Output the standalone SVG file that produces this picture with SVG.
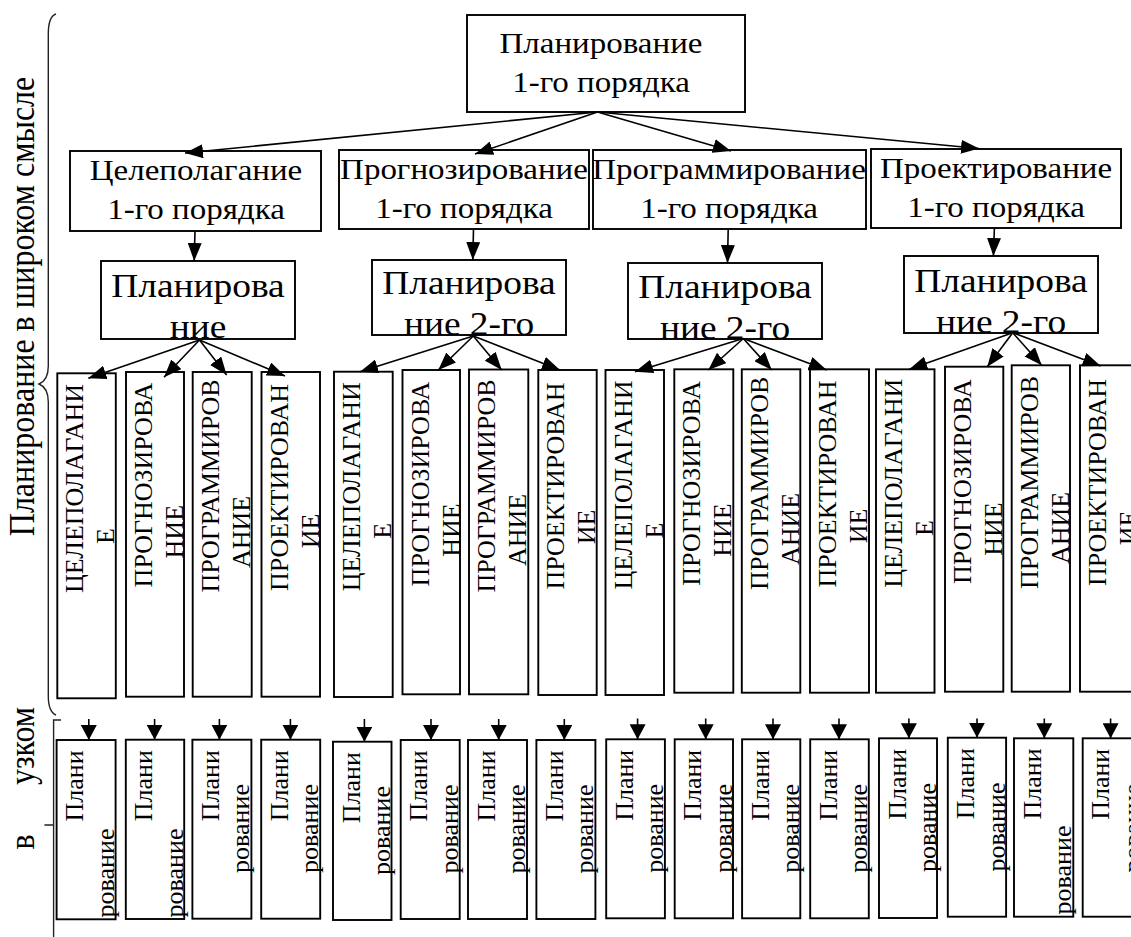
<svg xmlns="http://www.w3.org/2000/svg" width="1131" height="937" viewBox="0 0 1131 937" font-family="'Liberation Serif', 'DejaVu Serif', serif">
<defs>
<marker id="ah" markerWidth="18" markerHeight="14" refX="18" refY="7" orient="auto" markerUnits="userSpaceOnUse"><path d="M0,0 L18,7 L0,14 z" fill="#000"/></marker>
<marker id="ahs" markerWidth="15" markerHeight="16" refX="15" refY="8" orient="auto" markerUnits="userSpaceOnUse"><path d="M0,0 L15,8 L0,16 z" fill="#000"/></marker>
</defs>
<style>
.box{fill:#fff;stroke:#000;stroke-width:1.9}
.tx text{font-family:'Liberation Serif','DejaVu Serif',serif;fill:#000;text-anchor:middle}
.f1{font-size:30px}
.f2{font-size:34px}
.f3{font-size:26px}
.side{font-size:32px}
#connectors line{stroke:#000;stroke-width:1.6;marker-end:url(#ah)}
#connectors line.s{marker-end:url(#ahs)}
.br{fill:none;stroke:#222;stroke-width:1.4}
</style>
<rect width="1131" height="937" fill="#fff"/>
<g class="tx">
<g id="labels">
<path class="br" d="M56,14 C50,16 48.3,24 48.3,34 L48.3,366 C48.3,376 44,382 39,384 C44,386 48.3,392 48.3,402 L48.3,696 C48.3,706 51,713 56,715"/>
<path class="br" d="M61,720 L53.6,720 L53.6,937 M44.4,825 L53.6,825"/>
<text class="side" transform="translate(34,306.5) scale(1.1,1) rotate(-90)">Планирование в широком смысле</text>
<text class="side" transform="translate(34,746) scale(1.1,1) rotate(-90)">узком</text>
<text class="side" transform="translate(34,842) scale(1.1,1) rotate(-90)">в</text>
</g>

<g id="top">
<rect class="box" x="467" y="15" width="278" height="97"/>
<text class="f1" transform="translate(601,53) scale(1.1,1)">Планирование</text>
<text class="f1" transform="translate(601,92) scale(1.1,1)">1-го порядка</text>
</g>

<g id="l1a"><rect class="box" x="70" y="151" width="251" height="80"/>
<text class="f1" transform="translate(196,180) scale(1.1,1)">Целеполагание</text>
<text class="f1" transform="translate(196,219) scale(1.1,1)">1-го порядка</text></g>
<g id="l1b"><rect class="box" x="339" y="150" width="250" height="79"/>
<text class="f1" transform="translate(464,179) scale(1.1,1)">Прогнозирование</text>
<text class="f1" transform="translate(464,218) scale(1.1,1)">1-го порядка</text></g>
<g id="l1c"><rect class="box" x="593" y="150" width="273" height="79"/>
<text class="f1" transform="translate(729,179) scale(1.1,1)">Программирование</text>
<text class="f1" transform="translate(729,218) scale(1.1,1)">1-го порядка</text></g>
<g id="l1d"><rect class="box" x="871" y="149" width="250" height="79"/>
<text class="f1" transform="translate(996,178) scale(1.1,1)">Проектирование</text>
<text class="f1" transform="translate(996,217) scale(1.1,1)">1-го порядка</text></g>

<g id="l2a"><rect class="box" x="101" y="261" width="194" height="78"/>
<text class="f2" transform="translate(198,297) scale(1.1,1)">Планирова</text>
<text class="f2" transform="translate(198,338) scale(1.1,1)">ние</text></g>
<g id="l2b"><rect class="box" x="372" y="260" width="194" height="75"/>
<text class="f2" transform="translate(469,294) scale(1.1,1)">Планирова</text>
<text class="f2" transform="translate(469,335) scale(1.1,1)">ние 2-го</text></g>
<g id="l2c"><rect class="box" x="628" y="263" width="194" height="76"/>
<text class="f2" transform="translate(725,297.5) scale(1.1,1)">Планирова</text>
<text class="f2" transform="translate(725,338.5) scale(1.1,1)">ние 2-го</text></g>
<g id="l2d"><rect class="box" x="904" y="256" width="194" height="77"/>
<text class="f2" transform="translate(1001,291.5) scale(1.1,1)">Планирова</text>
<text class="f2" transform="translate(1001,332.5) scale(1.1,1)">ние 2-го</text></g>

<g id="v1"><rect class="box" x="57.3" y="373.3" width="58.5" height="325"/>
<text class="f3" transform="translate(83.3,488.5) rotate(-90)">ЦЕЛЕПОЛАГАНИ</text>
<text class="f3" transform="translate(114.3,536) rotate(-90)">Е</text></g>
<g id="v2"><rect class="box" x="126" y="372" width="58" height="324.7"/>
<text class="f3" transform="translate(152,485) rotate(-90)">ПРОГНОЗИРОВА</text>
<text class="f3" transform="translate(183,531.7) rotate(-90)">НИЕ</text></g>
<g id="v3"><rect class="box" x="192.7" y="372" width="59" height="324.7"/>
<text class="f3" transform="translate(218.7,486) rotate(-90)">ПРОГРАММИРОВ</text>
<text class="f3" transform="translate(249.7,532) rotate(-90)">АНИЕ</text></g>
<g id="v4"><rect class="box" x="261.5" y="372" width="58.5" height="324.7"/>
<text class="f3" transform="translate(287.5,487.5) rotate(-90)">ПРОЕКТИРОВАН</text>
<text class="f3" transform="translate(318.5,531) rotate(-90)">ИЕ</text></g>
<g id="v5"><rect class="box" x="334" y="371.7" width="58.7" height="325.3"/>
<text class="f3" transform="translate(360,486.7) rotate(-90)">ЦЕЛЕПОЛАГАНИ</text>
<text class="f3" transform="translate(391,530.7) rotate(-90)">Е</text></g>
<g id="v6"><rect class="box" x="402.5" y="370" width="57.5" height="324.3"/>
<text class="f3" transform="translate(428.5,484) rotate(-90)">ПРОГНОЗИРОВА</text>
<text class="f3" transform="translate(459.5,530) rotate(-90)">НИЕ</text></g>
<g id="v7"><rect class="box" x="469" y="369.5" width="59.3" height="324.8"/>
<text class="f3" transform="translate(495,486) rotate(-90)">ПРОГРАММИРОВ</text>
<text class="f3" transform="translate(526,530) rotate(-90)">АНИЕ</text></g>
<g id="v8"><rect class="box" x="538.3" y="370" width="58.4" height="325"/>
<text class="f3" transform="translate(564.3,486) rotate(-90)">ПРОЕКТИРОВАН</text>
<text class="f3" transform="translate(595.3,527) rotate(-90)">ИЕ</text></g>
<g id="v9"><rect class="box" x="605.5" y="370" width="58.5" height="325"/>
<text class="f3" transform="translate(631.5,485) rotate(-90)">ЦЕЛЕПОЛАГАНИ</text>
<text class="f3" transform="translate(662.5,530.5) rotate(-90)">Е</text></g>
<g id="v10"><rect class="box" x="674.3" y="369.3" width="59" height="323.4"/>
<text class="f3" transform="translate(700.3,483.3) rotate(-90)">ПРОГНОЗИРОВА</text>
<text class="f3" transform="translate(731.3,530) rotate(-90)">НИЕ</text></g>
<g id="v11"><rect class="box" x="741.8" y="369.3" width="58.5" height="323.4"/>
<text class="f3" transform="translate(767.8,483.3) rotate(-90)">ПРОГРАММИРОВ</text>
<text class="f3" transform="translate(798.8,529) rotate(-90)">АНИЕ</text></g>
<g id="v12"><rect class="box" x="810" y="369.3" width="59" height="323.4"/>
<text class="f3" transform="translate(836,484) rotate(-90)">ПРОЕКТИРОВАН</text>
<text class="f3" transform="translate(867,526) rotate(-90)">ИЕ</text></g>
<g id="v13"><rect class="box" x="876" y="369.3" width="58.5" height="323.4"/>
<text class="f3" transform="translate(902,483.3) rotate(-90)">ЦЕЛЕПОЛАГАНИ</text>
<text class="f3" transform="translate(933,528) rotate(-90)">Е</text></g>
<g id="v14"><rect class="box" x="945" y="366.7" width="58.3" height="325"/>
<text class="f3" transform="translate(971,481.7) rotate(-90)">ПРОГНОЗИРОВА</text>
<text class="f3" transform="translate(1002,529) rotate(-90)">НИЕ</text></g>
<g id="v15"><rect class="box" x="1011.7" y="365.3" width="58.3" height="326.4"/>
<text class="f3" transform="translate(1037.7,482.5) rotate(-90)">ПРОГРАММИРОВ</text>
<text class="f3" transform="translate(1068.7,528) rotate(-90)">АНИЕ</text></g>
<g id="v16"><rect class="box" x="1080" y="365.3" width="58.5" height="326.4"/>
<text class="f3" transform="translate(1106,482.5) rotate(-90)">ПРОЕКТИРОВАН</text>
<text class="f3" transform="translate(1137,528) rotate(-90)">ИЕ</text></g>

<g id="b1"><rect class="box" x="56.6" y="740" width="59" height="179.3"/>
<text class="f3" transform="translate(83.2,786) rotate(-90)">Плани</text>
<text class="f3" transform="translate(113.6,873) rotate(-90)">рование</text></g>
<g id="b2"><rect class="box" x="125.8" y="739.7" width="58.4" height="179.3"/>
<text class="f3" transform="translate(152.4,785.7) rotate(-90)">Плани</text>
<text class="f3" transform="translate(182.8,873) rotate(-90)">рование</text></g>
<g id="b3"><rect class="box" x="192.4" y="739.7" width="59" height="179"/>
<text class="f3" transform="translate(219,785.7) rotate(-90)">Плани</text>
<text class="f3" transform="translate(249.4,828.5) rotate(-90)">рование</text></g>
<g id="b4"><rect class="box" x="261.2" y="739.7" width="59" height="179"/>
<text class="f3" transform="translate(287.8,785.7) rotate(-90)">Плани</text>
<text class="f3" transform="translate(318.2,828.5) rotate(-90)">рование</text></g>
<g id="b5"><rect class="box" x="333" y="741.7" width="58.5" height="178.3"/>
<text class="f3" transform="translate(359.6,787.7) rotate(-90)">Плани</text>
<text class="f3" transform="translate(390,830.5) rotate(-90)">рование</text></g>
<g id="b6"><rect class="box" x="400.7" y="740" width="59" height="179"/>
<text class="f3" transform="translate(427.3,786) rotate(-90)">Плани</text>
<text class="f3" transform="translate(457.7,829) rotate(-90)">рование</text></g>
<g id="b7"><rect class="box" x="468" y="740" width="59" height="179"/>
<text class="f3" transform="translate(494.6,786) rotate(-90)">Плани</text>
<text class="f3" transform="translate(525,829) rotate(-90)">рование</text></g>
<g id="b8"><rect class="box" x="536.4" y="740" width="59" height="179"/>
<text class="f3" transform="translate(563,786) rotate(-90)">Плани</text>
<text class="f3" transform="translate(593.4,829) rotate(-90)">рование</text></g>
<g id="b9"><rect class="box" x="606.2" y="739.3" width="58.7" height="179"/>
<text class="f3" transform="translate(632.8,785.3) rotate(-90)">Плани</text>
<text class="f3" transform="translate(663.2,828.3) rotate(-90)">рование</text></g>
<g id="b10"><rect class="box" x="674.7" y="739.3" width="58.3" height="179"/>
<text class="f3" transform="translate(701.3,785.3) rotate(-90)">Плани</text>
<text class="f3" transform="translate(731.7,828.3) rotate(-90)">рование</text></g>
<g id="b11"><rect class="box" x="742.1" y="739.3" width="58.2" height="179"/>
<text class="f3" transform="translate(768.7,785.3) rotate(-90)">Плани</text>
<text class="f3" transform="translate(799.1,828.3) rotate(-90)">рование</text></g>
<g id="b12"><rect class="box" x="810.2" y="739.3" width="58.6" height="179"/>
<text class="f3" transform="translate(836.8,785.3) rotate(-90)">Плани</text>
<text class="f3" transform="translate(867.2,828.3) rotate(-90)">рование</text></g>
<g id="b13"><rect class="box" x="879" y="738.3" width="58" height="179.7"/>
<text class="f3" transform="translate(905.6,784.3) rotate(-90)">Плани</text>
<text class="f3" transform="translate(936,827.5) rotate(-90)">рование</text></g>
<g id="b14"><rect class="box" x="947.8" y="737.7" width="58.3" height="179"/>
<text class="f3" transform="translate(974.4,783.7) rotate(-90)">Плани</text>
<text class="f3" transform="translate(1004.8,827) rotate(-90)">рование</text></g>
<g id="b15"><rect class="box" x="1014" y="738.3" width="59.3" height="178.4"/>
<text class="f3" transform="translate(1040.6,784) rotate(-90)">Плани</text>
<text class="f3" transform="translate(1071,870) rotate(-90)">рование</text></g>
<g id="b16"><rect class="box" x="1082.7" y="738.3" width="58.5" height="178.4"/>
<text class="f3" transform="translate(1109.3,784.3) rotate(-90)">Плани</text>
<text class="f3" transform="translate(1141,828) rotate(-90)">рование</text></g>
</g>
<g id="connectors">
<line x1="597.5" y1="112" x2="185" y2="153"/>
<line x1="597.5" y1="112" x2="475" y2="154"/>
<line x1="597.5" y1="112" x2="731" y2="151"/>
<line x1="597.5" y1="112" x2="979" y2="148.5"/>
<line x1="195" y1="231" x2="194.2" y2="261"/>
<line x1="473.5" y1="229" x2="472.8" y2="260"/>
<line x1="728.2" y1="229" x2="727.5" y2="263"/>
<line x1="994.4" y1="228" x2="993.4" y2="256"/>
<line x1="199.5" y1="340" x2="88.3" y2="378.3"/>
<line x1="199.5" y1="340" x2="164" y2="377.3"/>
<line x1="199.5" y1="340" x2="226.7" y2="375"/>
<line x1="199.5" y1="340" x2="285" y2="376"/>
<line x1="473.3" y1="336" x2="360" y2="371.7"/>
<line x1="473.3" y1="336" x2="438.3" y2="370"/>
<line x1="473.3" y1="336" x2="501.7" y2="370"/>
<line x1="473.3" y1="336" x2="560" y2="370"/>
<line x1="743.3" y1="338.5" x2="635" y2="371.7"/>
<line x1="743.3" y1="338.5" x2="708.3" y2="370"/>
<line x1="743.3" y1="338.5" x2="771.7" y2="370"/>
<line x1="743.3" y1="338.5" x2="826.7" y2="370"/>
<line x1="1012.7" y1="332.7" x2="909.3" y2="369.3"/>
<line x1="1012.7" y1="332.7" x2="987.3" y2="366.7"/>
<line x1="1012.7" y1="332.7" x2="1041.7" y2="365.3"/>
<line x1="1012.7" y1="332.7" x2="1100.7" y2="366"/>
<line class="s" x1="88.8" y1="719" x2="88.8" y2="740"/>
<line class="s" x1="154.6" y1="719" x2="154.6" y2="739.7"/>
<line class="s" x1="219.4" y1="719" x2="219.4" y2="739.7"/>
<line class="s" x1="290.4" y1="719" x2="290.4" y2="739.7"/>
<line class="s" x1="364.4" y1="719" x2="364.4" y2="741.7"/>
<line class="s" x1="431" y1="719" x2="431" y2="740"/>
<line class="s" x1="498.7" y1="719" x2="498.7" y2="740"/>
<line class="s" x1="564.3" y1="719" x2="564.3" y2="740"/>
<line class="s" x1="637.6" y1="718.5" x2="637.6" y2="739.3"/>
<line class="s" x1="705.7" y1="718.5" x2="705.7" y2="739.3"/>
<line class="s" x1="773" y1="718.5" x2="773" y2="739.3"/>
<line class="s" x1="839" y1="718.5" x2="839" y2="739.3"/>
<line class="s" x1="908.9" y1="718.5" x2="908.9" y2="738.3"/>
<line class="s" x1="977" y1="718.5" x2="977" y2="737.7"/>
<line class="s" x1="1044.3" y1="718.5" x2="1044.3" y2="738.3"/>
<line class="s" x1="1110.6" y1="718.5" x2="1110.6" y2="738.3"/>
</g>
</svg>
